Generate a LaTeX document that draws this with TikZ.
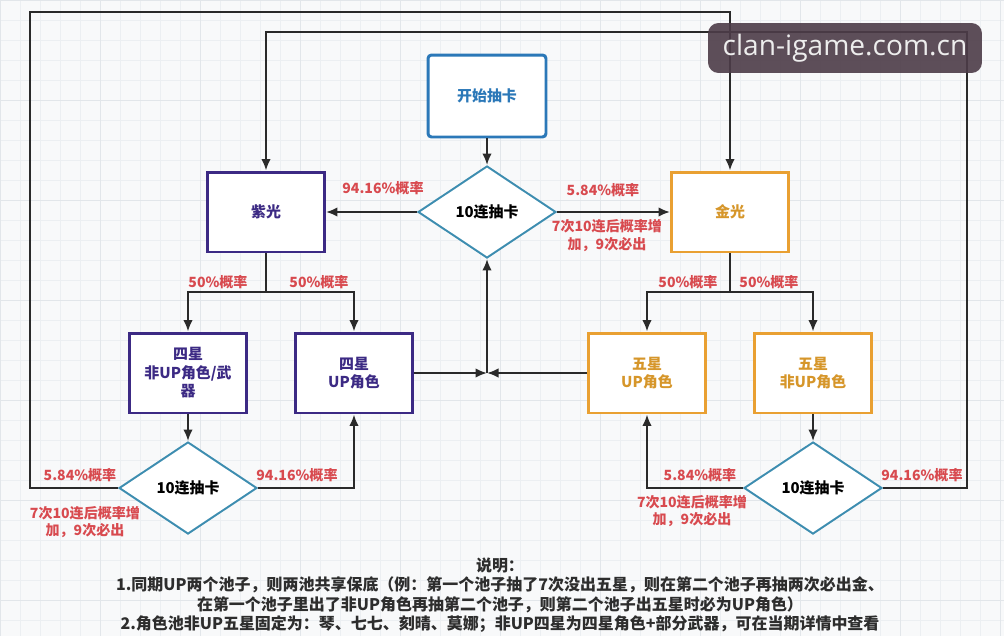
\documentclass[tikz,border=0pt]{standalone}
\usepackage{fontspec}
\setmainfont{Noto Sans CJK SC}
\newfontfamily\markfont{Open Sans}
\usetikzlibrary{arrows.meta,shapes.geometric}
\definecolor{pageBack}{RGB}{248,249,250}
\definecolor{gridMinor}{RGB}{236,239,242}
\definecolor{gridMajor}{RGB}{226,230,234}
\definecolor{startBlue}{RGB}{43,120,184}
\definecolor{diamondBlue}{RGB}{61,141,176}
\definecolor{violetDraw}{RGB}{60,42,132}
\definecolor{goldDraw}{RGB}{233,160,50}
\definecolor{goldText}{RGB}{214,150,42}
\definecolor{probRed}{RGB}{216,74,79}
\definecolor{lineBlack}{RGB}{42,42,42}
\definecolor{noteGray}{RGB}{45,45,45}
\definecolor{markBack}{RGB}{77,60,72}

\begin{document}
\begin{tikzpicture}[
  x=0.02cm, y=-0.02cm,
  font=\bfseries\fontsize{8.5}{10.5}\selectfont,
  box/.style={rectangle, draw, line width=1.7pt, fill=white, align=center,
    minimum width=2.34cm, minimum height=1.6cm, inner sep=1pt},
  startbox/.style={box, draw=startBlue, text=startBlue, rounded corners=2pt,
    minimum width=2.36cm, minimum height=1.64cm},
  violetbox/.style={box, draw=violetDraw, text=violetDraw},
  goldbox/.style={box, draw=goldDraw, text=goldText},
  drawbox/.style={diamond, draw=diamondBlue, line width=1.1pt, fill=white,
    inner sep=0pt, minimum width=2.76cm, minimum height=1.84cm, text=black},
  prob/.style={text=probRed, align=center, inner sep=0pt,
    font=\bfseries\fontsize{8}{10.2}\selectfont},
  line/.style={draw=lineBlack, line width=1.1pt},
  arrow/.style={line, -{Latex[length=2.3mm,width=1.9mm]}}
]

% Page and grid.
\useasboundingbox (0,0) rectangle (1004,636);
\fill[pageBack] (0,0) rectangle (1004,636);
\foreach \gx in {0,20,...,1000} \draw[gridMinor, line width=0.3pt] (\gx,0) -- (\gx,636);
\foreach \gy in {0,20,...,620} \draw[gridMinor, line width=0.3pt] (0,\gy) -- (1004,\gy);
\foreach \gx in {0,100,...,1000} \draw[gridMajor, line width=0.5pt] (\gx,0) -- (\gx,636);
\foreach \gy in {0,100,...,600} \draw[gridMajor, line width=0.5pt] (0,\gy) -- (1004,\gy);

% Start and the first ten-pull.
\node[startbox] (start) at (487,96) {开始抽卡};
\node[drawbox] (drawTop) at (487,212) {10连抽卡};

% Four-star and five-star results.
\node[violetbox] (violet) at (266,212) {紫光};
\node[goldbox] (gold) at (730,212) {金光};
\node[violetbox] (fourOther) at (188,373) {四星\\非UP角色/武\\器};
\node[violetbox] (fourUp) at (354,373) {四星\\UP角色};
\node[goldbox] (fiveUp) at (647,373) {五星\\UP角色};
\node[goldbox] (fiveOther) at (813,373) {五星\\非UP角色};

% The two follow-up ten-pulls.
\node[drawbox] (drawLeft) at (188,488) {10连抽卡};
\node[drawbox] (drawRight) at (813,488) {10连抽卡};

% Bend points of the connectors.
\coordinate (meet) at (487,373);
\coordinate (violetSplit) at (266,292);
\coordinate (goldSplit) at (730,292);
\coordinate (loopOuter) at (30,12);
\coordinate (loopInner) at (967,32);

% Connectors.
\draw[arrow] (start) -- (drawTop);
\draw[arrow] (drawTop) -- (violet);
\draw[arrow] (drawTop) -- (gold);
\draw[line] (violet) -- (violetSplit);
\draw[arrow] (violetSplit) -| (fourOther);
\draw[arrow] (violetSplit) -| (fourUp);
\draw[line] (gold) -- (goldSplit);
\draw[arrow] (goldSplit) -| (fiveUp);
\draw[arrow] (goldSplit) -| (fiveOther);
\draw[arrow] (fourUp) -- (meet);
\draw[arrow] (fiveUp) -- (meet);
\draw[arrow] (meet) -- (drawTop);
\draw[arrow] (fourOther) -- (drawLeft);
\draw[arrow] (fiveOther) -- (drawRight);
\draw[arrow] (drawLeft.east) -| (fourUp);
\draw[arrow] (drawRight.west) -| (fiveUp);
\draw[arrow] (drawLeft.west) -| (loopOuter) -| (gold);
\draw[arrow] (drawRight.east) -| (loopInner) -| (violet);

% Probability labels.
\node[prob] (pTopViolet) at (383,188) {94.16\%概率};
\node[prob] (pTopGold) at (603,190) {5.84\%概率};
\node[prob] (pTopPity) at (607,236) {7次10连后概率增\\加，9次必出};
\node[prob] (pVioletL) at (218,282) {50\%概率};
\node[prob] (pVioletR) at (319,282) {50\%概率};
\node[prob] (pGoldL) at (688,282) {50\%概率};
\node[prob] (pGoldR) at (769,282) {50\%概率};
\node[prob] (pLeftGold) at (80,475) {5.84\%概率};
\node[prob] (pLeftPity) at (85,522) {7次10连后概率增\\加，9次必出};
\node[prob] (pLeftUp) at (297,475) {94.16\%概率};
\node[prob] (pRightUp) at (700,475) {5.84\%概率};
\node[prob] (pRightPity) at (692,511) {7次10连后概率增\\加，9次必出};
\node[prob] (pRightViolet) at (922,475) {94.16\%概率};

% Notes under the chart.
\node[text=noteGray, align=center, inner sep=0pt,
  font=\bfseries\fontsize{9.1}{11}\selectfont] (notes) at (500,595)
  {说明：\\
   1.同期UP两个池子，则两池共享保底（例：第一个池子抽了7次没出五星，则在第二个池子再抽两次必出金、\\
   在第一个池子里出了非UP角色再抽第二个池子，则第二个池子出五星时必为UP角色）\\
   2.角色池非UP五星固定为：琴、七七、刻晴、莫娜；非UP四星为四星角色+部分武器，可在当期详情中查看};

% Site mark.
\node[fill=markBack, fill opacity=0.9, text opacity=1, text=white!93!black,
  rounded corners=6pt, minimum width=5.48cm, minimum height=1cm, inner sep=0pt,
  font=\markfont\fontsize{16}{19}\selectfont] (siteMark) at (845,48) {clan-igame.com.cn};

\end{tikzpicture}
\end{document}
